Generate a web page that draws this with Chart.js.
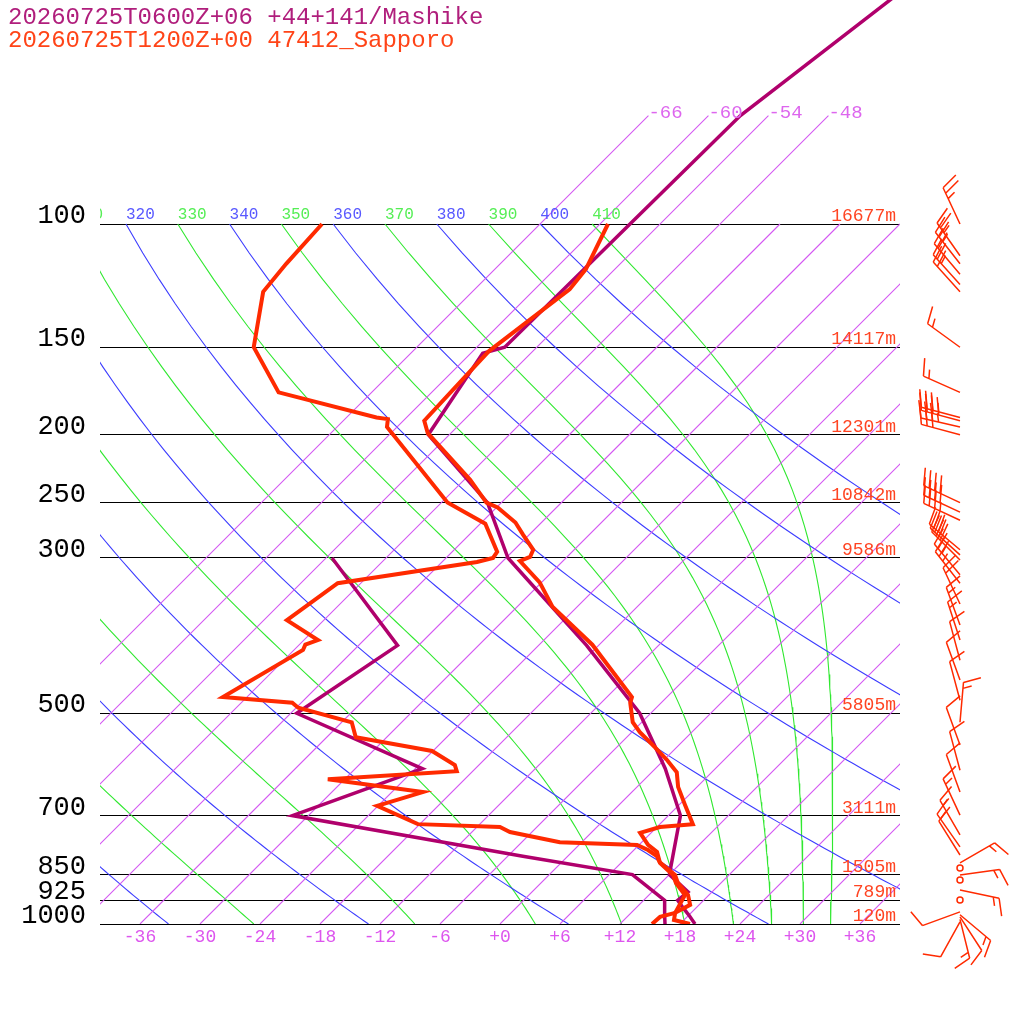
<!DOCTYPE html>
<html>
<head>
<meta charset="utf-8">
<script src="https://cdn.jsdelivr.net/npm/chart.js@4.4.1/dist/chart.umd.min.js"></script>
<style>
  html, body { margin: 0; padding: 0; background: #fff; overflow: hidden; }
  #wrap { position: relative; width: 1024px; height: 1024px; }
  #skewt { position: absolute; left: 0; top: 0; }
  .title { position: absolute; left: 8px; font-family: "Liberation Mono", monospace; font-size: 24px; line-height: 24px; white-space: pre; }
</style>
</head>
<body>
<div id="wrap">
  <canvas id="skewt" width="1024" height="1024"></canvas>
  <div class="title" style="top:6px;color:#b01e7c">20260725T0600Z+06 +44+141/Mashike</div>
  <div class="title" style="top:29px;color:#ff4418">20260725T1200Z+00 47412_Sapporo</div>
</div>
<script>
// pressure levels with lines, and Sapporo heights written at them
const pLevels = [100, 150, 200, 250, 300, 500, 700, 850, 925, 1000];
const heightLabels = ['16677m', '14117m', '12301m', '10842m', '9586m', '5805m', '3111m', '1505m', '789m', '120m'];

// isotherm ticks along the bottom
const xTicks = [-36, -30, -24, -18, -12, -6, 0, 6, 12, 18, 24, 30, 36];
const isoTemps = [-66, -60, -54, -48, -42, -36, -30, -24, -18, -12, -6, 0, 6, 12, 18, 24, 30, 36];
const isoTopLabels = [-66, -60, -54, -48];

// dry adiabats (blue) and pseudo adiabats (green), labelled at 100 hPa
const dryThetas = [240, 260, 280, 300, 320, 340, 360, 380, 400];
const moistThetas = [230, 250, 270, 290, 310, 330, 350, 370, 390, 410];
const thetaLabels = [310, 320, 330, 340, 350, 360, 370, 380, 390, 400, 410];

// Mashike (model levels)
const mashP = [1000, 975, 950, 925, 900, 850, 800, 700, 600, 500, 400, 300, 250, 200, 153, 150, 100, 70, 50, 30];
const mashT = [19.5, 18.2, 16.8, 15.4, 15.6, 12.0, 10.5, 7.2, 1.0, -7.1, -19.2, -35.8, -43.4, -56.1, -58.8, -57.2, -57.0, -56.8, -53.8, -49.1];
const mashTdP = [1000, 975, 950, 925, 900, 850, 800, 700, 600, 500, 400, 300];
const mashTd = [16.5, 15.7, 14.9, 14.1, 12.2, 8.3, -4.5, -31.6, -23.3, -41.4, -38.1, -53.4];

// Sapporo (radiosonde)
const sapTP = [1000, 987, 964, 939, 909, 874, 851, 816, 789, 771, 741, 727, 720, 676, 637, 607, 583, 559, 532, 515, 483, 474, 399, 352, 325, 303, 299, 292, 278, 267, 254, 250, 232, 199, 191, 152, 138, 124, 116, 100];
const sapT = [19.0, 17.0, 16.4, 17.1, 15.9, 13.7, 12.6, 9.8, 8.5, 6.9, 4.9, 6.3, 9.3, 6.6, 4.1, 2.5, 0.3, -2.2, -5.2, -6.9, -9.1, -9.5, -18.7, -26.5, -30.2, -34.3, -33.7, -34.1, -36.6, -38.6, -41.9, -43.5, -47.4, -56.3, -57.9, -58.4, -57.5, -56.5, -56.9, -59.2];
const sapTdP = [1000, 977, 964, 909, 874, 851, 818, 800, 784, 771, 764, 739, 727, 720, 678, 648, 621, 605, 593, 566, 541, 515, 491, 483, 474, 406, 399, 393, 368, 326, 304, 300, 294, 268, 250, 195, 190, 189, 174, 150, 125, 114, 100];
const sapTd = [15.2, 15.3, 16.4, 15.6, 13.5, 12.4, 9.9, 8.9, 7.4, 5.8, -2.2, -8.2, -9.7, -18.2, -24.1, -20.9, -31.7, -19.6, -20.4, -24.1, -33.1, -35.0, -41.8, -42.9, -50.4, -47.1, -47.4, -46.6, -51.7, -50.3, -38.5, -37.3, -37.5, -41.5, -47.4, -61.0, -61.7, -63.0, -75.3, -82.3, -86.9, -87.4, -87.8];

// Sapporo winds: direction (deg) and speed (kt)
const windP = [100, 111, 114, 118, 122, 125, 150, 174, 189, 191, 195, 200, 250, 258, 265, 292, 297, 302, 317, 326, 349, 374, 393, 420, 448, 479, 515, 555, 603, 648, 699, 746, 776, 797, 818, 832, 851, 865, 894, 924, 961, 970, 977, 985, 993];
const windDir = [335, 325, 322, 320, 318, 318, 306, 294, 285, 285, 283, 285, 295, 295, 295, 310, 312, 315, 320, 322, 335, 340, 342, 345, 340, 345, 5, 340, 345, 340, 335, 330, 325, 328, 60, 0, 82, 0, 102, 0, 250, 130, 147, 166, 209];
const windSpd = [25, 25, 25, 20, 25, 20, 15, 15, 35, 40, 35, 30, 40, 40, 35, 30, 30, 30, 25, 25, 20, 15, 15, 10, 10, 10, 15, 10, 10, 10, 15, 15, 15, 10, 15, 0, 15, 0, 15, 0, 10, 15, 10, 15, 10];

const MASH = '#b0006c';
const SAP = '#ff2a00';
const ISO = '#d458f2';
const DRY = '#3c3cff';
const MOIST = '#30e830';
const KAPPA = 0.2857;

// skew: 10px per degree, 700px per decade of pressure
const skewX = (t, p) => t + 70 * Math.log10(1000 / p);
const pTop = 1000 / Math.pow(10, 924 / 700);

function profile(ps, ts) {
  return ps.map((p, i) => ({ x: skewX(ts[i], p), y: p }));
}

function dryAdiabat(theta) {
  const pts = [];
  for (let p = 100; p <= 1000; p += 10) {
    pts.push({ x: skewX(theta * Math.pow(p / 1000, KAPPA) - 273.15, p), y: p });
  }
  return pts;
}

function moistRate(T, p) {
  const tc = T - 273.15;
  const es = 6.112 * Math.exp(17.67 * tc / (tc + 243.5));
  const rs = 0.622 * es / (p - es);
  const Lv = 2.501e6, Rd = 287.04;
  return (Rd * T + Lv * rs) / (1005.7 + Lv * Lv * rs * 0.622 / (Rd * T * T)) / p;
}

function moistAdiabat(theta) {
  const pts = [];
  let T = theta * Math.pow(0.1, KAPPA);
  const dp = 2;
  for (let p = 100; p <= 1000; p += dp) {
    if ((p - 100) % 10 === 0) pts.push({ x: skewX(T - 273.15, p), y: p });
    const k1 = moistRate(T, p);
    const k2 = moistRate(T + k1 * dp / 2, p + dp / 2);
    T += k2 * dp;
  }
  return pts;
}

const bgLine = (data, color, w) => ({
  data, borderColor: color, backgroundColor: color, borderWidth: w,
  pointRadius: 0, tension: 0, fill: false, order: 10
});

const datasets = [
  { data: profile(sapTP, sapT), borderColor: SAP, backgroundColor: SAP, borderWidth: 4, pointRadius: 0, tension: 0, order: 0 },
  { data: profile(sapTdP, sapTd), borderColor: SAP, backgroundColor: SAP, borderWidth: 4, pointRadius: 0, tension: 0, order: 0 },
  { data: profile(mashP, mashT), borderColor: MASH, backgroundColor: MASH, borderWidth: 3.5, pointRadius: 0, tension: 0, order: 1 },
  { data: profile(mashTdP, mashTd), borderColor: MASH, backgroundColor: MASH, borderWidth: 3.5, pointRadius: 0, tension: 0, order: 1 }
];
isoTemps.forEach(t => {
  const top = isoTopLabels.includes(t) ? 70 : 100;
  datasets.push(bgLine([{ x: t, y: 1000 }, { x: skewX(t, top), y: top }], ISO, 1.1));
});
dryThetas.forEach(th => datasets.push(bgLine(dryAdiabat(th), DRY, 1.1)));
moistThetas.forEach(th => datasets.push(bgLine(moistAdiabat(th), MOIST, 1.1)));

function drawBarb(ctx, bx, by, dir, spd) {
  ctx.beginPath();
  if (spd < 2.5) {
    ctx.arc(bx, by, 3, 0, 2 * Math.PI);
    ctx.stroke();
    return;
  }
  const r = dir * Math.PI / 180;
  const ux = Math.sin(r), uy = -Math.cos(r);
  const tx = bx + ux * 40, ty = by + uy * 40;
  ctx.moveTo(bx, by);
  ctx.lineTo(tx, ty);
  const a = 70 * Math.PI / 180;
  const vx = ux * Math.cos(a) - uy * Math.sin(a);
  const vy = ux * Math.sin(a) + uy * Math.cos(a);
  let left = Math.round(spd / 5) * 5;
  let pos = 0;
  while (left >= 10) {
    const sx = tx - ux * pos, sy = ty - uy * pos;
    ctx.moveTo(sx, sy);
    ctx.lineTo(sx + vx * 18, sy + vy * 18);
    pos += 6;
    left -= 10;
  }
  if (left >= 5) {
    if (pos === 0) pos = 6;
    const sx = tx - ux * pos, sy = ty - uy * pos;
    ctx.moveTo(sx, sy);
    ctx.lineTo(sx + vx * 9, sy + vy * 9);
  }
  ctx.stroke();
}

const overlay = {
  id: 'overlay',
  afterDatasetsDraw(chart) {
    const { ctx, chartArea: a, scales: { x, y } } = chart;
    ctx.save();
    ctx.beginPath();
    ctx.rect(a.left, a.top, a.right - a.left, a.bottom - a.top);
    ctx.clip();

    // theta labels along 100 hPa
    ctx.font = '16px "Liberation Mono"';
    ctx.textAlign = 'left';
    ctx.textBaseline = 'alphabetic';
    thetaLabels.forEach(th => {
      const t = th * Math.pow(0.1, KAPPA) - 273.15;
      ctx.fillStyle = th % 20 === 0 ? '#5858ff' : '#55ee55';
      ctx.fillText(String(th), x.getPixelForValue(skewX(t, 100)), y.getPixelForValue(100) - 5);
    });

    // isotherm labels at the top ends
    ctx.font = '19px "Liberation Mono"';
    ctx.fillStyle = '#dd66ee';
    isoTopLabels.forEach(t => {
      ctx.fillText(String(t), x.getPixelForValue(skewX(t, 70)), y.getPixelForValue(70) + 2);
    });

    // heights at the pressure lines
    ctx.font = '18px "Liberation Mono"';
    ctx.fillStyle = '#ff4422';
    ctx.textAlign = 'right';
    pLevels.forEach((p, i) => {
      ctx.fillText(heightLabels[i], a.right - 4, y.getPixelForValue(p) - 3);
    });
    ctx.restore();

    // wind barbs to the right of the diagram
    ctx.save();
    ctx.strokeStyle = SAP;
    ctx.lineWidth = 1.5;
    const bx = x.getPixelForValue(46);
    windP.forEach((p, i) => drawBarb(ctx, bx, y.getPixelForValue(p), windDir[i], windSpd[i]));
    ctx.restore();
  }
};

new Chart(document.getElementById('skewt'), {
  type: 'line',
  data: { datasets },
  options: {
    responsive: false,
    animation: false,
    devicePixelRatio: 1,
    layout: { padding: { left: 0, right: 124, top: 0, bottom: 0 } },
    plugins: { legend: { display: false }, tooltip: { enabled: false } },
    scales: {
      x: {
        type: 'linear',
        min: -40,
        max: 40,
        afterFit(s) { s.height = 100; s.paddingLeft = 0; s.paddingRight = 0; },
        afterBuildTicks(s) { s.ticks = xTicks.map(v => ({ value: v })); },
        ticks: {
          callback: v => (v >= 0 ? '+' : '') + v,
          color: '#dd55ee',
          font: { family: 'Liberation Mono', size: 18 },
          padding: 2,
          maxRotation: 0,
          autoSkip: false
        },
        grid: { display: false, drawTicks: false },
        border: { display: false }
      },
      y: {
        type: 'logarithmic',
        reverse: true,
        min: pTop,
        max: 1000,
        afterFit(s) { s.width = 100; s.paddingTop = 0; s.paddingBottom = 0; },
        afterBuildTicks(s) { s.ticks = pLevels.map(v => ({ value: v })); },
        ticks: {
          callback: v => String(v),
          color: '#000',
          font: { family: 'Liberation Mono', size: 27 },
          padding: 14,
          labelOffset: -8,
          autoSkip: false
        },
        grid: { color: '#000', lineWidth: 1, drawTicks: false },
        border: { display: false }
      }
    }
  },
  plugins: [overlay]
});
</script>
</body>
</html>
